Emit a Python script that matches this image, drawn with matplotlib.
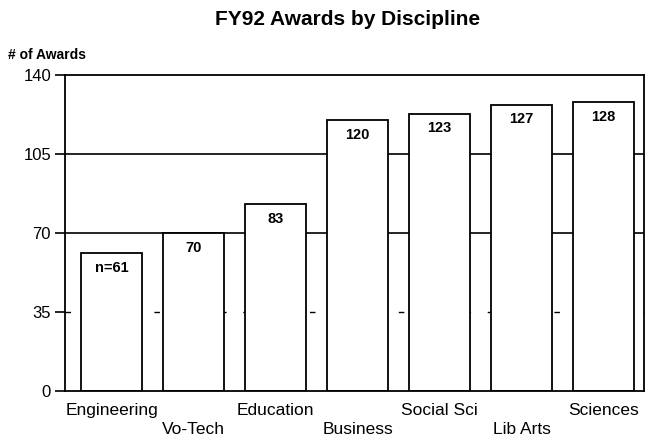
import matplotlib
matplotlib.use('Agg')
import matplotlib.pyplot as plt

# data
disciplines = ['Engineering', 'Vo-Tech', 'Education', 'Business', 'Social Sci', 'Lib Arts', 'Sciences']
awards = [61, 70, 83, 120, 123, 127, 128]
bar_labels = ['n=61', '70', '83', '120', '123', '127', '128']
yticks = [0, 35, 70, 105, 140]

plt.rcParams['font.family'] = ['Liberation Sans', 'DejaVu Sans']

fig = plt.figure(figsize=(6.49, 4.37), dpi=100)
ax = fig.add_axes([0.100, 0.105, 0.892, 0.723])

x = list(range(len(disciplines)))

# gridlines (the 35 one is broken up on the scan)
ax.axhline(105, color='black', lw=1.2, zorder=1)
ax.axhline(70, color='black', lw=1.2, zorder=1)
ax.axhline(35, color='black', lw=1.0, ls=(0, (4, 12)), zorder=1)

ax.bar(x, awards, width=0.74, color='white', edgecolor='black', linewidth=1.3, zorder=2)

for xi, v, lab in zip(x, awards, bar_labels):
    ax.text(xi, v - 3.5, lab, ha='center', va='top', fontsize=10.5, fontweight='bold', zorder=3)

ax.set_xlim(-0.57, 6.49)
ax.set_ylim(0, 140)
ax.set_yticks(yticks)
ax.set_yticklabels([str(t) for t in yticks], fontsize=12)
ax.tick_params(axis='y', length=7, width=1.2, pad=3)

# category labels in two staggered rows
ax.set_xticks([])
for i, name in enumerate(disciplines):
    off = -14 if i % 2 == 0 else -27.5
    ax.annotate(name, xy=(i, 0), xytext=(0, off), textcoords='offset points',
                ha='center', va='center', fontsize=12.5, annotation_clip=False)

for s in ax.spines.values():
    s.set_linewidth(1.3)

fig.text(0.535, 0.955, 'FY92 Awards by Discipline', ha='center', va='center',
         fontsize=15, fontweight='bold')
fig.text(0.012, 0.874, '# of Awards', ha='left', va='center', fontsize=10, fontweight='bold')

fig.savefig('out.png', dpi=100)
